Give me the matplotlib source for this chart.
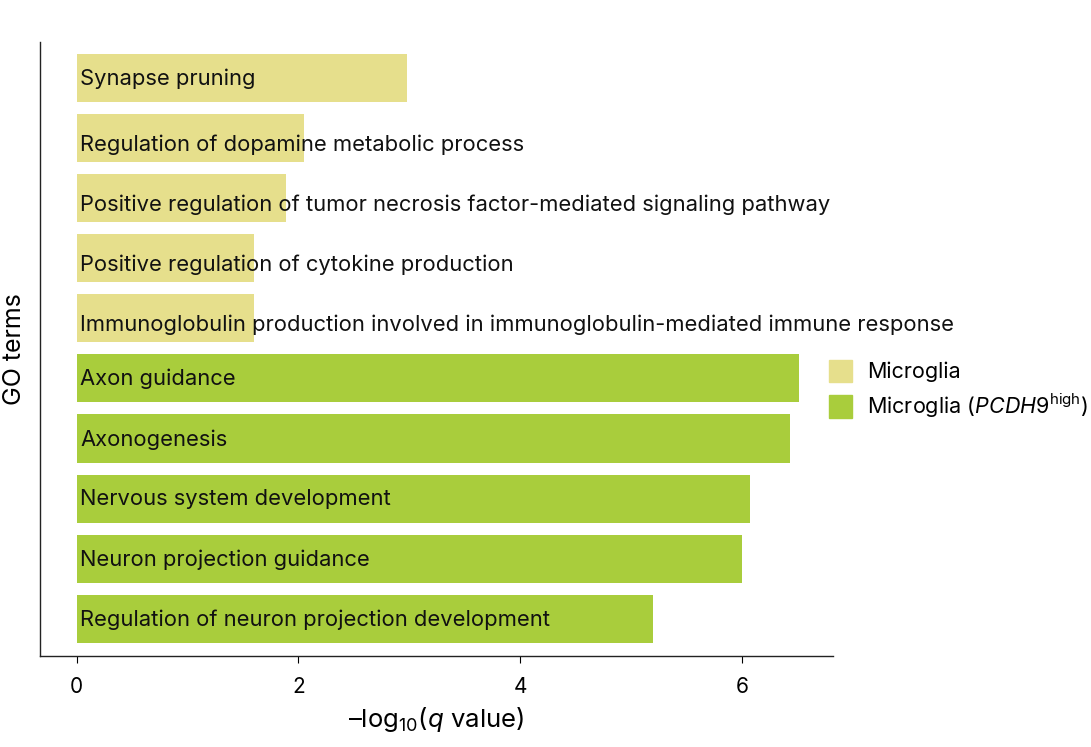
import matplotlib
matplotlib.use("Agg")
import matplotlib.pyplot as plt
from matplotlib.patches import Patch

plt.rcParams['font.family'] = ['Inter', 'DejaVu Sans']
plt.rcParams['mathtext.fontset'] = 'custom'
plt.rcParams['mathtext.rm'] = 'Inter'
plt.rcParams['mathtext.it'] = 'Inter:italic'

terms = [
    "Synapse pruning",
    "Regulation of dopamine metabolic process",
    "Positive regulation of tumor necrosis factor-mediated signaling pathway",
    "Positive regulation of cytokine production",
    "Immunoglobulin production involved in immunoglobulin-mediated immune response",
    "Axon guidance",
    "Axonogenesis",
    "Nervous system development",
    "Neuron projection guidance",
    "Regulation of neuron projection development",
]
values = [2.98, 2.05, 1.89, 1.60, 1.60, 6.51, 6.43, 6.07, 6.00, 5.20]
groups = ["Microglia"] * 5 + ["PCDH9"] * 5
colors = {"Microglia": "#e6df8c", "PCDH9": "#a9cd3c"}
xticks = [0, 2, 4, 6]

fig = plt.figure(figsize=(10.91, 7.47), dpi=100)
ax = fig.add_axes([0.0367, 0.1218, 0.7268, 0.822])

ypos = list(range(len(terms)))
ax.barh(ypos, values, height=0.8, color=[colors[g] for g in groups])

ax.set_ylim(9.62, -0.6)
ax.set_xlim(-0.33, 6.82)

fig.canvas.draw()
renderer = fig.canvas.get_renderer()
for y, t, v in zip(ypos, terms, values):
    txt = ax.text(0.03, y, t, va='center_baseline', ha='left', fontsize=15.8, color='#111111')
    bb = txt.get_window_extent(renderer).transformed(ax.transData.inverted())
    # labels overflowing their bar sit a little lower in the reference
    if bb.x1 > v:
        txt.set_y(y + 0.08)
    else:
        txt.set_y(y - 0.02)

ax.set_xticks(xticks)
ax.set_xticklabels([str(v) for v in xticks], fontsize=15)
ax.set_yticks([])
ax.tick_params(axis='x', length=5, width=0.8, pad=10)
for s in ['top', 'right']:
    ax.spines[s].set_visible(False)
for s in ['left', 'bottom']:
    ax.spines[s].set_linewidth(1.0)
    ax.spines[s].set_color('#222222')

ax.set_xlabel(r"–log$_{10}$($\it{q}$ value)", fontsize=18.5, labelpad=6)
ax.set_ylabel("GO terms", fontsize=18, labelpad=10)

handles = [Patch(color=colors["Microglia"], label="Microglia"),
           Patch(color=colors["PCDH9"], label=r"Microglia ($\it{PCDH9}^{\rm{high}}$)")]
fig.legend(handles=handles, loc='upper left', bbox_to_anchor=(0.752, 0.530),
           frameon=False, fontsize=15.5, handlelength=1.07, handleheight=1.25,
           handletextpad=0.68, labelspacing=0.42, borderaxespad=0)

fig.savefig("out.png", dpi=100)
